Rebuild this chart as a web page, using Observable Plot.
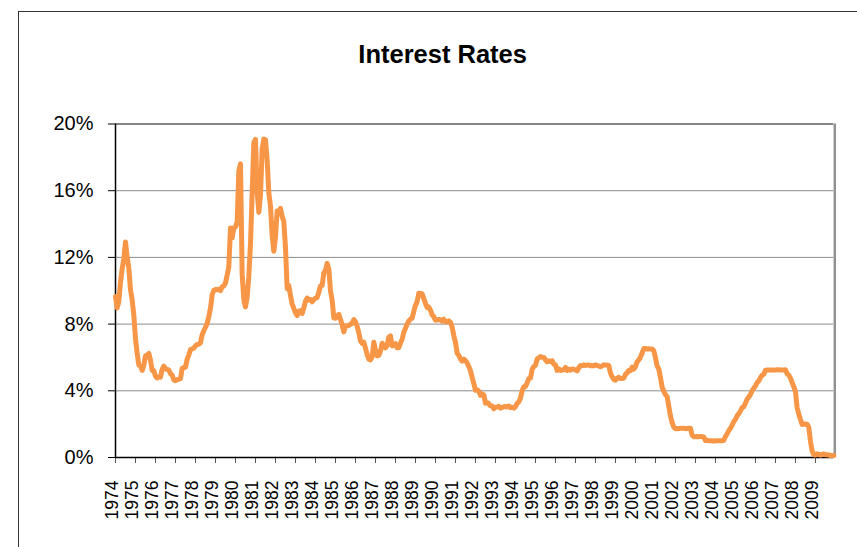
<!DOCTYPE html>
<html>
<head>
<meta charset="utf-8">
<script src="https://cdn.jsdelivr.net/npm/d3@7"></script>
<script src="https://cdn.jsdelivr.net/npm/@observablehq/plot@0.6"></script>
<style>
  html, body { margin: 0; padding: 0; background: #fff; overflow: hidden; }
  #wrap { position: relative; width: 857px; height: 547px; overflow: hidden; }
  #frame { position: absolute; left: 18px; top: 11px; width: 900px; height: 600px;
           border-left: 1px solid #333; border-top: 1px solid #333; box-sizing: border-box; }
  #chart { position: absolute; left: 0; top: 0; }
</style>
</head>
<body>
<div id="wrap"><div id="frame"></div><div id="chart"></div></div>
<script>
const title = "Interest Rates";
const startYear = 1974;
// monthly rates (%), Jan 1974 .. Dec 2009
const rates = [
  9.65, 8.97, 9.35, 10.51, 11.31, 11.93, 12.92, 12.01, 11.34, 10.06, 9.45, 8.53,
  7.13, 6.24, 5.54, 5.49, 5.22, 5.55, 6.10, 6.14, 6.24, 5.82, 5.22, 5.20,
  4.87, 4.77, 4.84, 4.82, 5.29, 5.48, 5.31, 5.29, 5.25, 5.02, 4.95, 4.65,
  4.61, 4.68, 4.69, 4.73, 5.35, 5.39, 5.42, 5.90, 6.14, 6.47, 6.51, 6.56,
  6.70, 6.78, 6.79, 6.89, 7.36, 7.60, 7.81, 8.04, 8.45, 8.96, 9.76, 10.03,
  10.07, 10.06, 10.09, 10.01, 10.24, 10.29, 10.47, 10.94, 11.43, 13.77, 13.18, 13.78,
  13.82, 14.13, 17.19, 17.61, 10.98, 9.47, 9.03, 9.61, 10.87, 12.81, 15.85, 18.90,
  19.08, 15.93, 14.70, 15.72, 18.52, 19.10, 19.04, 17.82, 15.87, 15.08, 13.31, 12.37,
  13.22, 14.78, 14.68, 14.94, 14.45, 14.15, 12.59, 10.12, 10.31, 9.71, 9.20, 8.95,
  8.68, 8.51, 8.77, 8.80, 8.63, 8.98, 9.37, 9.56, 9.45, 9.48, 9.34, 9.47,
  9.56, 9.59, 9.91, 10.29, 10.32, 11.06, 11.23, 11.64, 11.30, 9.99, 9.43, 8.38,
  8.35, 8.50, 8.58, 8.27, 7.97, 7.53, 7.88, 7.90, 7.92, 7.99, 8.05, 8.27,
  8.14, 7.86, 7.48, 6.99, 6.85, 6.92, 6.56, 6.17, 5.89, 5.85, 6.04, 6.91,
  6.43, 6.10, 6.13, 6.37, 6.85, 6.73, 6.58, 6.73, 7.22, 7.29, 6.69, 6.77,
  6.83, 6.58, 6.58, 6.87, 7.09, 7.51, 7.75, 8.01, 8.19, 8.30, 8.35, 8.76,
  9.12, 9.36, 9.85, 9.84, 9.81, 9.53, 9.24, 8.99, 9.02, 8.84, 8.55, 8.45,
  8.23, 8.24, 8.28, 8.26, 8.18, 8.29, 8.15, 8.13, 8.20, 8.11, 7.81, 7.31,
  6.91, 6.25, 6.12, 5.91, 5.78, 5.90, 5.82, 5.66, 5.45, 5.21, 4.81, 4.43,
  4.03, 4.06, 3.98, 3.73, 3.82, 3.76, 3.25, 3.30, 3.22, 3.10, 3.09, 2.92,
  3.02, 3.03, 3.07, 2.96, 3.00, 3.04, 3.06, 3.03, 3.09, 2.99, 3.02, 2.96,
  3.05, 3.25, 3.34, 3.56, 4.01, 4.25, 4.26, 4.47, 4.73, 4.76, 5.29, 5.45,
  5.53, 5.92, 5.98, 6.05, 6.01, 6.00, 5.85, 5.74, 5.80, 5.76, 5.80, 5.60,
  5.56, 5.22, 5.31, 5.22, 5.24, 5.27, 5.40, 5.22, 5.30, 5.24, 5.31, 5.29,
  5.25, 5.19, 5.39, 5.51, 5.50, 5.56, 5.52, 5.54, 5.54, 5.50, 5.52, 5.50,
  5.56, 5.51, 5.49, 5.45, 5.49, 5.56, 5.54, 5.55, 5.51, 5.07, 4.83, 4.68,
  4.63, 4.76, 4.81, 4.74, 4.74, 4.76, 4.99, 5.07, 5.22, 5.20, 5.42, 5.30,
  5.45, 5.73, 5.85, 6.02, 6.27, 6.53, 6.54, 6.50, 6.52, 6.51, 6.51, 6.40,
  5.98, 5.49, 5.31, 4.80, 4.21, 3.97, 3.77, 3.65, 3.07, 2.49, 2.09, 1.82,
  1.73, 1.74, 1.73, 1.75, 1.75, 1.75, 1.73, 1.74, 1.75, 1.75, 1.34, 1.24,
  1.24, 1.26, 1.25, 1.26, 1.26, 1.22, 1.01, 1.03, 1.01, 1.01, 1.00, 0.98,
  1.00, 1.01, 1.00, 1.00, 1.00, 1.03, 1.26, 1.43, 1.61, 1.76, 1.93, 2.16,
  2.28, 2.50, 2.63, 2.79, 3.00, 3.04, 3.26, 3.50, 3.62, 3.78, 4.00, 4.16,
  4.29, 4.49, 4.59, 4.79, 4.94, 4.99, 5.24, 5.25, 5.25, 5.25, 5.25, 5.24,
  5.25, 5.26, 5.26, 5.25, 5.25, 5.25, 5.26, 5.02, 4.94, 4.76, 4.49, 4.24,
  3.94, 2.98, 2.61, 2.28, 1.98, 2.00, 2.01, 2.00, 1.81, 0.97, 0.39, 0.16,
  0.15, 0.22, 0.18, 0.15, 0.18, 0.21, 0.16, 0.16, 0.15, 0.12, 0.12, 0.12
];
const yearLabels = ["1974","1975","1976","1977","1978","1979","1980","1981","1982","1983",
  "1984","1985","1986","1987","1988","1989","1990","1991","1992","1993","1994","1995",
  "1996","1997","1998","1999","2000","2001","2002","2003","2004","2005","2006","2007",
  "2008","2009"];
const yTicks = [0, 4, 8, 12, 16, 20];
const gridTicks = [4, 8, 12, 16];

const data = rates.map((v, i) => ({i, v}));
const yearIdx = yearLabels.map((y, k) => k * 12);
const lastIdx = rates.length - 1;

const chart = Plot.plot({
  width: 857,
  height: 547,
  marginLeft: 115,
  marginRight: 23.7,
  marginTop: 123.5,
  marginBottom: 90,
  style: {fontFamily: "'Liberation Sans', Arial, sans-serif", background: "transparent", overflow: "visible", color: "#000"},
  x: {domain: [0, lastIdx]},
  y: {domain: [0, 20]},
  marks: [
    Plot.ruleY(gridTicks, {stroke: "#8c8c8c", strokeWidth: 1}),
    Plot.ruleY([20], {stroke: "#858585", strokeWidth: 2}),
    Plot.ruleX([lastIdx], {stroke: "#929292", strokeWidth: 2.5, dx: 1}),
    Plot.axisY({ticks: yTicks, tickFormat: d => d + "%", tickSize: 7, tickPadding: 15, fontSize: 20, label: null}),
    Plot.axisX({ticks: yearIdx, tickSize: 6, tickFormat: () => "", label: null, stroke: "#555"}),
    Plot.text(yearIdx, {x: d => d, frameAnchor: "bottom", text: (d, k) => yearLabels[k],
      rotate: -90, textAnchor: "end", dx: 2.5, dy: 23, fontSize: 17.5}),
    Plot.ruleX([0], {stroke: "#000", strokeWidth: 1.5}),
    Plot.ruleY([0], {stroke: "#000", strokeWidth: 1.5}),
    Plot.line(data, {x: "i", y: "v", stroke: "#F79646", strokeWidth: 5, strokeLinejoin: "round", strokeLinecap: "round"}),
    Plot.text([title], {text: d => d, frameAnchor: "top", dx: -32, dy: -79, fontSize: 25.5, fontWeight: "bold"})
  ]
});
document.getElementById("chart").appendChild(chart);
</script>
</body>
</html>
